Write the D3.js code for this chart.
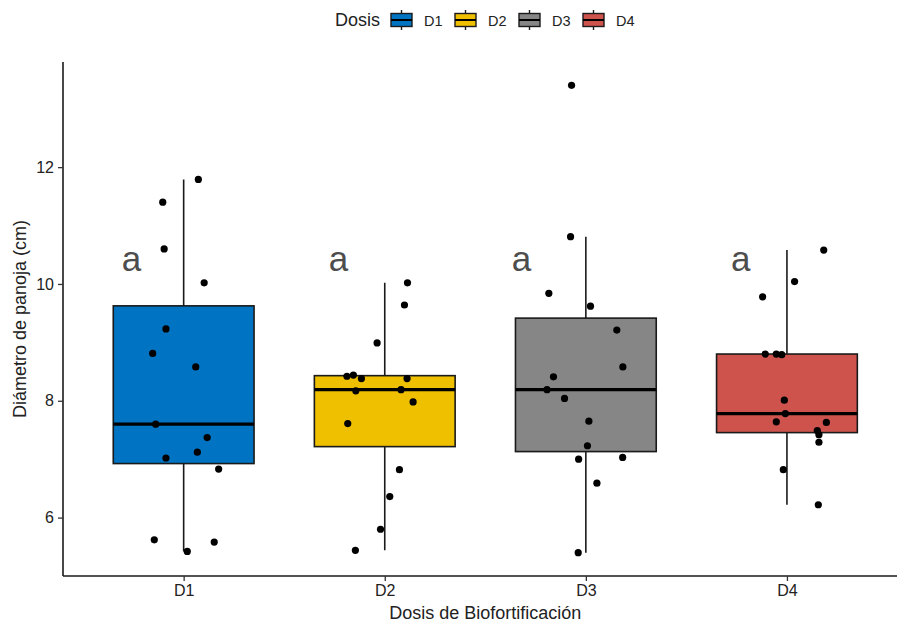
<!DOCTYPE html>
<html>
<head>
<meta charset="utf-8">
<script src="https://cdn.jsdelivr.net/npm/d3@7"></script>
<style>
  html, body { margin: 0; padding: 0; background: #fff; }
  svg { display: block; font-family: "Liberation Sans", Arial, Helvetica, sans-serif; }
</style>
</head>
<body>
<svg id="chart" width="897" height="626"></svg>
<script>
// ---- data ----
const categories = ["D1", "D2", "D3", "D4"];
const colors = ["#0073C2", "#EFC000", "#868686", "#CD534C"];
const valuesD1 = [11.79, 11.40, 10.60, 10.02, 9.23, 8.81, 8.58, 7.60, 7.37, 7.12, 7.02, 6.83, 5.62, 5.58, 5.42];
const jitterD1 = [0.073, -0.104, -0.097, 0.102, -0.088, -0.154, 0.060, -0.139, 0.117, 0.068, -0.088, 0.174, -0.146, 0.152, 0.018];
const valuesD2 = [10.02, 9.64, 8.99, 8.42, 8.44, 8.38, 8.38, 8.17, 8.19, 7.98, 7.61, 6.82, 6.36, 5.80, 5.44];
const jitterD2 = [0.113, 0.098, -0.038, -0.188, -0.156, -0.116, 0.111, -0.144, 0.081, 0.141, -0.184, 0.073, 0.025, -0.021, -0.146];
const valuesD3 = [13.40, 10.81, 9.84, 9.62, 9.21, 8.58, 8.41, 8.19, 8.04, 7.65, 7.23, 7.00, 7.03, 6.59, 5.40];
const jitterD3 = [-0.071, -0.076, -0.184, 0.023, 0.154, 0.184, -0.161, -0.193, -0.106, 0.015, 0.008, -0.036, 0.183, 0.055, -0.038];
const valuesD4 = [10.58, 10.04, 9.78, 8.80, 8.80, 8.79, 8.01, 7.78, 7.64, 7.63, 7.49, 7.42, 7.29, 6.82, 6.22];
const jitterD4 = [0.183, 0.038, -0.121, -0.108, -0.053, -0.026, -0.013, -0.008, -0.053, 0.196, 0.151, 0.159, 0.159, -0.018, 0.156];
const letters = ["a", "a", "a", "a"];
const letterX = [0.74, 1.77, 2.68, 3.77];
const letterY = [10.22, 10.22, 10.22, 10.22];
const yTicks = [6, 8, 10, 12];
const yDomain = [5.0, 13.8];
const xTitle = "Dosis de Biofortificación";
const yTitle = "Diámetro de panoja (cm)";
const legendTitle = "Dosis";

const seriesValues = [valuesD1, valuesD2, valuesD3, valuesD4];
const seriesJitter = [jitterD1, jitterD2, jitterD3, jitterD4];

// ---- layout ----
const svg = d3.select("#chart");
const mLeft = 63, mRight = 907.6, mTop = 62, mBottom = 576;

const x = d3.scaleLinear().domain([0.4, 4.6]).range([mLeft, mRight]);
const xBand = d3.scalePoint().domain(categories).range([mLeft, mRight]).padding(0.6);
const y = d3.scaleLinear().domain(yDomain).range([mBottom, mTop]);
const unit = x(1) - x(0);
const boxW = 0.7 * unit;

// stats
const stats = categories.map((c, i) => {
  const v = seriesValues[i].slice().sort(d3.ascending);
  const q1 = d3.quantile(v, 0.25), med = d3.quantile(v, 0.5), q3 = d3.quantile(v, 0.75);
  const iqr = q3 - q1;
  const lo = d3.min(v.filter(d => d >= q1 - 1.5 * iqr));
  const hi = d3.max(v.filter(d => d <= q3 + 1.5 * iqr));
  return { c, i, q1, med, q3, lo, hi };
});

const g = svg.append("g");

// whiskers
g.selectAll("line.whisk").data(stats).join("line")
  .attr("x1", d => xBand(d.c)).attr("x2", d => xBand(d.c))
  .attr("y1", d => y(d.hi)).attr("y2", d => y(d.lo))
  .attr("stroke", "#1a1a1a").attr("stroke-width", 1.6);

// boxes
g.selectAll("rect.box").data(stats).join("rect")
  .attr("x", d => xBand(d.c) - boxW / 2)
  .attr("width", boxW)
  .attr("y", d => y(d.q3))
  .attr("height", d => y(d.q1) - y(d.q3))
  .attr("fill", d => colors[d.i])
  .attr("stroke", "#1a1a1a").attr("stroke-width", 1.6);

// medians
g.selectAll("line.med").data(stats).join("line")
  .attr("x1", d => xBand(d.c) - boxW / 2).attr("x2", d => xBand(d.c) + boxW / 2)
  .attr("y1", d => y(d.med)).attr("y2", d => y(d.med))
  .attr("stroke", "#000").attr("stroke-width", 3.2);

// points
const pts = [];
categories.forEach((c, i) => seriesValues[i].forEach((v, j) => pts.push({ c, i, v, jx: seriesJitter[i][j] })));
g.selectAll("circle.pt").data(pts).join("circle")
  .attr("cx", d => x(d.i + 1 + d.jx))
  .attr("cy", d => y(d.v))
  .attr("r", 3.6)
  .attr("fill", "#000");

// letters
g.selectAll("text.let").data(letters).join("text")
  .attr("x", (d, i) => x(letterX[i]))
  .attr("y", (d, i) => y(letterY[i]))
  .attr("text-anchor", "middle")
  .attr("font-size", 35)
  .attr("fill", "#4d4d4d")
  .text(d => d);

// axes
const yAxis = d3.axisLeft(y).tickValues(yTicks).tickSize(5).tickPadding(4).tickFormat(d3.format("d"));
const ya = svg.append("g").attr("transform", `translate(${mLeft},0)`).call(yAxis);
ya.select(".domain").attr("d", `M0,${mTop}V${mBottom}`).attr("stroke", "#1a1a1a").attr("stroke-width", 1.6);
ya.selectAll(".tick line").attr("stroke", "#333").attr("stroke-width", 1.3);
ya.selectAll(".tick text").attr("font-size", 16).attr("fill", "#222").attr("font-family", "Liberation Sans, Arial, sans-serif");

const xAxis = d3.axisBottom(xBand).tickSize(5).tickPadding(4);
const xa = svg.append("g").attr("transform", `translate(0,${mBottom})`).call(xAxis);
xa.select(".domain").attr("d", `M${mLeft},0H${mRight}`).attr("stroke", "#1a1a1a").attr("stroke-width", 1.6);
xa.selectAll(".tick line").attr("stroke", "#333").attr("stroke-width", 1.3);
xa.selectAll(".tick text").attr("font-size", 16).attr("fill", "#222").attr("font-family", "Liberation Sans, Arial, sans-serif");

// axis titles
svg.append("text")
  .attr("x", (mLeft + mRight) / 2).attr("y", 619)
  .attr("text-anchor", "middle").attr("font-size", 18).attr("fill", "#222")
  .text(xTitle);
svg.append("text")
  .attr("transform", `translate(26,${(mTop + mBottom) / 2}) rotate(-90)`)
  .attr("text-anchor", "middle").attr("font-size", 18).attr("fill", "#222")
  .text(yTitle);

// legend
const lg = svg.append("g");
lg.append("text").attr("x", 335).attr("y", 26).attr("font-size", 18).attr("fill", "#222").text(legendTitle);
const items = lg.selectAll("g.item").data(categories).join("g")
  .attr("transform", (d, i) => `translate(${391 + i * 64},0)`);
items.append("line").attr("x1", 10.5).attr("x2", 10.5).attr("y1", 10).attr("y2", 30)
  .attr("stroke", "#1a1a1a").attr("stroke-width", 1.4);
items.append("rect").attr("x", 0).attr("y", 13.5).attr("width", 21).attr("height", 13)
  .attr("fill", (d, i) => colors[i]).attr("stroke", "#1a1a1a").attr("stroke-width", 1.4);
items.append("line").attr("x1", 0).attr("x2", 21).attr("y1", 20).attr("y2", 20)
  .attr("stroke", "#000").attr("stroke-width", 2);
items.append("text").attr("x", 33).attr("y", 25.5).attr("font-size", 14.5).attr("fill", "#222").text(d => d);
</script>
</body>
</html>
